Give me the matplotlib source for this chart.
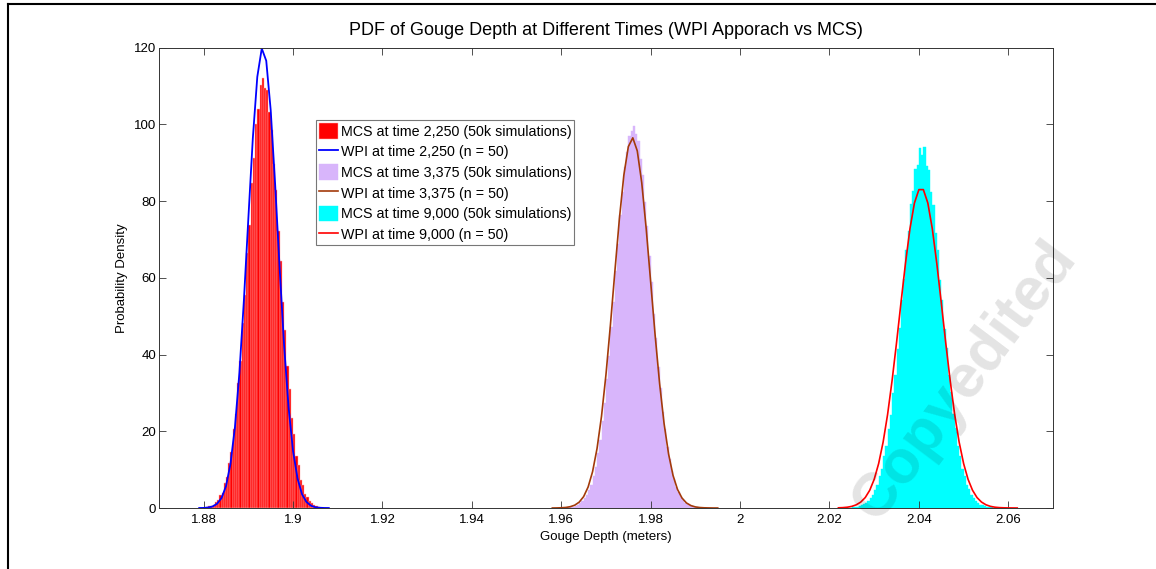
import numpy as np
import matplotlib
matplotlib.use('Agg')
import matplotlib.pyplot as plt
from matplotlib.lines import Line2D

# Arial-like text, as in the MATLAB export
plt.rcParams['font.family'] = ['Liberation Sans', 'DejaVu Sans']
plt.rcParams['font.size'] = 9.5

# Histogram bins (uniform width) for the MCS results
bin_width = 0.0005
red_bin_start = 1.8800
purple_bin_start = 1.9590
cyan_bin_start = 2.0230

# MCS at time 2,250 (50k simulations)
mcs_2250 = [0.1, 0.2, 0.4, 0.6, 0.9, 1.5, 2.2, 3.4, 4.0, 6.5, 8.0, 11.8, 14.5,
            20.5, 24.6, 32.5, 38.4, 48.2, 55.6, 66.4, 73.9, 84.6, 91.3, 100.2,
            104.1, 110.3, 112.0, 109.4, 108.9, 103.2, 98.6, 89.7, 82.8, 72.1,
            64.4, 53.6, 46.3, 36.9, 31.0, 23.4, 19.2, 13.6, 11.1, 7.4, 5.9,
            3.6, 2.9, 1.7, 1.3, 0.7, 0.5, 0.3]

# MCS at time 3,375 (50k simulations)
mcs_3375 = [0.0, 0.02, 0.04, 0.06, 0.1, 0.15, 0.25, 0.35, 0.6, 0.8, 1.2, 1.7,
            2.5, 3.3, 4.7, 6.1, 8.4, 10.8, 14.3, 17.7, 22.6, 27.3, 33.6, 39.5,
            47.1, 53.8, 61.9, 68.7, 76.5, 82.4, 88.9, 92.7, 97.0, 98.2, 99.6,
            97.4, 95.8, 90.9, 86.7, 79.8, 73.6, 65.6, 58.9, 50.7, 44.2, 36.8,
            31.2, 25.1, 20.6, 16.0, 12.9, 9.6, 7.5, 5.4, 4.2, 2.9, 2.2, 1.4,
            1.0, 0.7, 0.5, 0.3, 0.2, 0.13, 0.08, 0.05, 0.03, 0.02]

# MCS at time 9,000 (50k simulations)
mcs_9000 = [0.02, 0.04, 0.06, 0.09, 0.14, 0.2, 0.3, 0.5, 0.7, 1.0, 1.3, 1.9,
            2.7, 3.4, 4.8, 6.1, 8.3, 10.2, 13.5, 16.1, 20.6, 24.3, 30.1, 34.6,
            41.5, 46.8, 54.2, 59.7, 67.3, 72.1, 79.2, 82.6, 88.4, 89.5, 93.8,
            92.1, 94.0, 89.2, 88.1, 82.5, 79.0, 71.8, 67.2, 59.5, 54.3, 46.6,
            41.6, 34.7, 30.2, 24.4, 20.8, 16.1, 13.6, 10.2, 8.3, 6.0, 4.9, 3.4,
            2.7, 1.8, 1.4, 0.9, 0.7, 0.45, 0.3, 0.2, 0.14, 0.09, 0.06, 0.04,
            0.02]

# WPI curves, sampled every 0.001 m
wpi_step = 0.001
wpi_2250_start = 1.879
wpi_2250 = [0.0, 0.02, 0.14, 0.41, 1.1, 2.6, 5.7, 11.5, 21.1, 35.3, 54.1, 75.5,
            96.4, 112.4, 119.8, 116.6, 103.7, 84.2, 62.5, 42.3, 26.2, 14.8,
            7.7, 3.6, 1.56, 0.61, 0.2, 0.06, 0.01, 0.0]
wpi_3375_start = 1.958
wpi_3375 = [0.0, 0.02, 0.06, 0.14, 0.34, 0.73, 1.52, 2.97, 5.46, 9.46, 15.5,
            23.9, 34.8, 47.8, 61.8, 75.4, 86.8, 94.2, 96.5, 93.1, 84.8, 72.8,
            58.9, 45.0, 32.4, 22.0, 14.1, 8.5, 4.85, 2.61, 1.32, 0.63, 0.28,
            0.12, 0.05, 0.02, 0.0, 0.0]
wpi_9000_start = 2.022
wpi_9000 = [0.05, 0.10, 0.21, 0.43, 0.84, 1.55, 2.73, 4.62, 7.47, 11.6, 17.2,
            24.4, 33.2, 43.1, 53.6, 63.8, 72.8, 79.5, 83.0, 83.0, 79.5, 72.8,
            63.8, 53.6, 43.1, 33.2, 24.4, 17.2, 11.6, 7.47, 4.62, 2.73, 1.55,
            0.84, 0.43, 0.21, 0.10, 0.05, 0.02, 0.01, 0.0]

x_ticks = [1.88, 1.9, 1.92, 1.94, 1.96, 1.98, 2, 2.02, 2.04, 2.06]
x_tick_labels = ['1.88', '1.9', '1.92', '1.94', '1.96', '1.98', '2', '2.02', '2.04', '2.06']
y_ticks = [0, 20, 40, 60, 80, 100, 120]


def bin_centres(start, heights):
    return start + bin_width * (np.arange(len(heights)) + 0.5)


def curve_x(start, values):
    return start + wpi_step * np.arange(len(values))


fig = plt.figure(figsize=(11.56, 5.69), dpi=100)
ax = fig.add_axes([0.1375, 0.1072, 0.7734, 0.809])

# MCS histograms and WPI curves
h1 = ax.bar(bin_centres(red_bin_start, mcs_2250), mcs_2250, width=bin_width,
            color='#ff0000', edgecolor='#ffb0b0', linewidth=0.35,
            label='MCS at time 2,250 (50k simulations)')
l1, = ax.plot(curve_x(wpi_2250_start, wpi_2250), wpi_2250, color='#0000ff', lw=1.3,
              label='WPI at time 2,250 (n = 50)')
h2 = ax.bar(bin_centres(purple_bin_start, mcs_3375), mcs_3375, width=bin_width,
            color='#d8b5fb', edgecolor='#d8b5fb', linewidth=0.3,
            label='MCS at time 3,375 (50k simulations)')
l2, = ax.plot(curve_x(wpi_3375_start, wpi_3375), wpi_3375, color='#a33a0a', lw=1.2,
              label='WPI at time 3,375 (n = 50)')
h3 = ax.bar(bin_centres(cyan_bin_start, mcs_9000), mcs_9000, width=bin_width,
            color='#00ffff', edgecolor='#00ffff', linewidth=0.3,
            label='MCS at time 9,000 (50k simulations)')
l3, = ax.plot(curve_x(wpi_9000_start, wpi_9000), wpi_9000, color='#ff0000', lw=1.2,
              label='WPI at time 9,000 (n = 50)')

# Axis setup (MATLAB look: box on, ticks inside)
ax.set_xlim(1.87, 2.07)
ax.set_ylim(0, 120)
ax.set_xticks(x_ticks)
ax.set_xticklabels(x_tick_labels)
ax.set_yticks(y_ticks)
ax.tick_params(direction='in', top=True, right=True, length=5, width=0.6,
               color='#333333', labelsize=9.5, pad=4)
ax.tick_params(axis='y', pad=2)
for sp in ax.spines.values():
    sp.set_linewidth(0.7)
    sp.set_color('#333333')

ax.set_title('PDF of Gouge Depth at Different Times (WPI Apporach vs MCS)',
             fontsize=13, pad=9)
ax.set_xlabel('Gouge Depth (meters)', fontsize=9.5, labelpad=4)
ax.set_ylabel('Probability Density', fontsize=9.5, labelpad=4)

# Legend in the plotting order (histogram, curve, ...)
handles = [h1, l1, h2, l2, h3, l3]
leg = ax.legend(handles, [h.get_label() for h in handles],
                loc='upper left', bbox_to_anchor=(0.176, 0.842), fontsize=10.3,
                frameon=True, fancybox=False, edgecolor='#555555',
                handlelength=1.3, handleheight=1.3, handletextpad=0.2,
                borderpad=0.2, borderaxespad=0, labelspacing=0.35)
leg.get_frame().set_linewidth(0.8)

# Faint watermark over the plot
fig.text(0.835, 0.33, 'Copyedited', fontsize=44, fontweight='bold', color='black',
         alpha=0.11, rotation=53, ha='center', va='center', zorder=10)

# Frame lines on the left and top of the figure
fig.add_artist(Line2D([0.007, 0.007], [0.0, 0.993], color='black', lw=1.5))
fig.add_artist(Line2D([0.007, 1.0], [0.993, 0.993], color='black', lw=1.5))

fig.savefig('out.png', dpi=100)
